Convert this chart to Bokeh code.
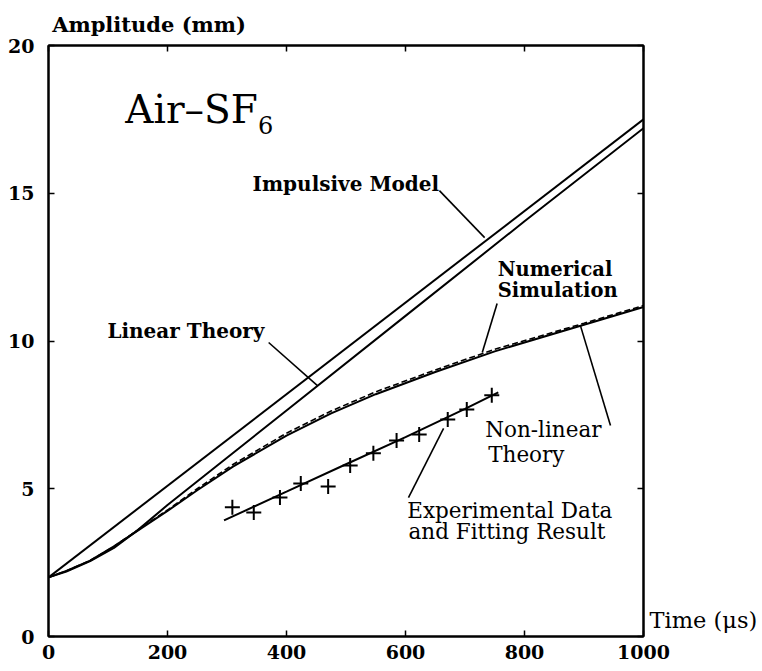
from bokeh.plotting import figure
from bokeh.models import Range1d, LinearAxis, FixedTicker, Label
from bokeh.embed import file_html
from bokeh.resources import INLINE

# ---- data ----
x_ticks = [0, 200, 400, 600, 800, 1000]
y_ticks = [0, 5, 10, 15, 20]

impulsive_t = [0, 1000]
impulsive_a = [2.0, 17.5]

linear_t = [0, 30, 70, 110, 150, 200, 300, 400, 600, 800, 1000]
linear_a = [2.0, 2.2, 2.55, 3.0, 3.6, 4.45, 6.05, 7.65, 10.85, 14.05, 17.2]

nonlinear_t = [0, 30, 70, 110, 155, 200, 250, 310, 400, 475, 550, 650, 750, 900, 1000]
nonlinear_a = [2.0, 2.22, 2.57, 3.05, 3.65, 4.25, 4.95, 5.75, 6.8, 7.55, 8.2, 8.95, 9.65, 10.55, 11.15]

numerical_t = [0, 30, 70, 110, 155, 200, 250, 310, 400, 475, 550, 650, 750, 900, 1000]
numerical_a = [2.0, 2.22, 2.57, 3.05, 3.67, 4.28, 5.0, 5.82, 6.88, 7.63, 8.28, 9.02, 9.72, 10.6, 11.2]

exp_t = [309, 345, 389, 424, 470, 507, 546, 585, 623, 671, 703, 745]
exp_a = [4.37, 4.2, 4.7, 5.18, 5.08, 5.79, 6.2, 6.63, 6.84, 7.34, 7.68, 8.16]

fit_t = [295, 400, 500, 600, 700, 756]
fit_a = [3.93, 4.9, 5.83, 6.75, 7.7, 8.26]

# leader lines (label end -> curve end), data units
leader_x0 = [657, 370, 754, 894, 664]
leader_y0 = [15.09, 9.95, 11.27, 10.52, 7.04]
leader_x1 = [733, 452, 729, 944.5, 605]
leader_y1 = [13.5, 8.49, 9.61, 7.14, 4.70]

# annotation texts
note_texts = ["Impulsive Model", "Numerical", "Simulation", "Linear Theory",
              "Non-linear", "Theory", "Experimental Data", "and Fitting Result"]
note_x = [343, 755, 755, 99, 734, 739, 603, 605]
note_y = [15.30, 12.42, 11.71, 10.35, 7.0, 6.16, 4.26, 3.55]
note_bold = [True, True, True, True, False, False, False, False]
note_size = ["20px", "19.5px", "19.5px", "20px", "21.5px", "21.5px", "21.5px", "21.5px"]

# axis titles placed as single labelled positions on outer axes
amp_title = "Amplitude (mm)"
amp_title_x = 169
time_title = "Time (\u03bcs)"
time_title_y = 0.55

FONT = "DejaVu Serif"

p = figure(width=762, height=671, output_backend="svg", toolbar_location=None,
           x_range=Range1d(0, 1000), y_range=Range1d(0, 20),
           min_border_left=48, min_border_right=119, min_border_top=45,
           min_border_bottom=35)
p.grid.visible = False
p.outline_line_color = "black"
p.outline_line_width = 2
p.background_fill_color = "white"
p.border_fill_color = "white"

def style_axis(ax, ticks, labels=True, standoff=8):
    ax.ticker = FixedTicker(ticks=ticks)
    ax.major_tick_in = 6
    ax.major_tick_out = 0
    ax.minor_tick_in = 0
    ax.minor_tick_out = 0
    ax.axis_line_color = "black"
    ax.axis_line_width = 2
    ax.major_tick_line_color = "black"
    ax.major_tick_line_width = 1.5
    ax.major_label_text_font = FONT
    ax.major_label_text_font_style = "bold"
    ax.major_label_text_color = "black"
    ax.major_label_standoff = standoff
    if labels:
        ax.major_label_text_font_size = "19px"
    else:
        ax.major_label_text_alpha = 0
        ax.major_label_text_font_size = "1px"
        ax.major_label_standoff = 0

style_axis(p.xaxis[0], x_ticks, True, 8)
style_axis(p.yaxis[0], y_ticks, True, 14)
top_ax = LinearAxis()
right_ax = LinearAxis()
style_axis(top_ax, x_ticks, False)
style_axis(right_ax, y_ticks, False)
p.add_layout(top_ax, "above")
p.add_layout(right_ax, "right")

def title_axis(tick, text, bold, size, standoff):
    ax = LinearAxis(ticker=FixedTicker(ticks=[tick], minor_ticks=[]),
                    major_label_overrides={tick: text})
    ax.axis_line_alpha = 0
    ax.major_tick_line_alpha = 0
    ax.major_tick_in = 0
    ax.major_tick_out = 0
    ax.minor_tick_in = 0
    ax.minor_tick_out = 0
    ax.major_label_text_font = FONT
    ax.major_label_text_font_style = "bold" if bold else "normal"
    ax.major_label_text_font_size = size
    ax.major_label_text_color = "black"
    ax.major_label_standoff = standoff
    return ax

p.add_layout(title_axis(amp_title_x, amp_title, True, "21px", 9), "above")
p.add_layout(title_axis(time_title_y, time_title, False, "22.5px", 6), "right")

# curves
p.line(impulsive_t, impulsive_a, line_color="black", line_width=2)
p.line(linear_t, linear_a, line_color="black", line_width=2)
p.line(nonlinear_t, nonlinear_a, line_color="black", line_width=2)
p.line(numerical_t, numerical_a, line_color="black", line_width=1.6, line_dash="6 3")
p.line(fit_t, fit_a, line_color="black", line_width=2)
p.scatter(exp_t, exp_a, marker="cross", size=15, line_color="black", line_width=2)

p.segment(leader_x0, leader_y0, leader_x1, leader_y1, line_color="black", line_width=1.6)

for t, x, y, b, s in zip(note_texts, note_x, note_y, note_bold, note_size):
    p.add_layout(Label(x=x, y=y, text=t, text_font=FONT,
                       text_font_style="bold" if b else "normal",
                       text_font_size=s, text_color="black",
                       text_align="left", text_baseline="alphabetic"))

# big title inside plot
p.add_layout(Label(x=129, y=17.85, text="Air\u2013SF", text_font=FONT,
                   text_font_size="39px", text_color="black",
                   text_align="left", text_baseline="alphabetic"))
p.add_layout(Label(x=352, y=17.32, text="6", text_font=FONT,
                   text_font_size="24px", text_color="black",
                   text_align="left", text_baseline="alphabetic"))

open("out.html", "w").write(file_html(p, INLINE))
